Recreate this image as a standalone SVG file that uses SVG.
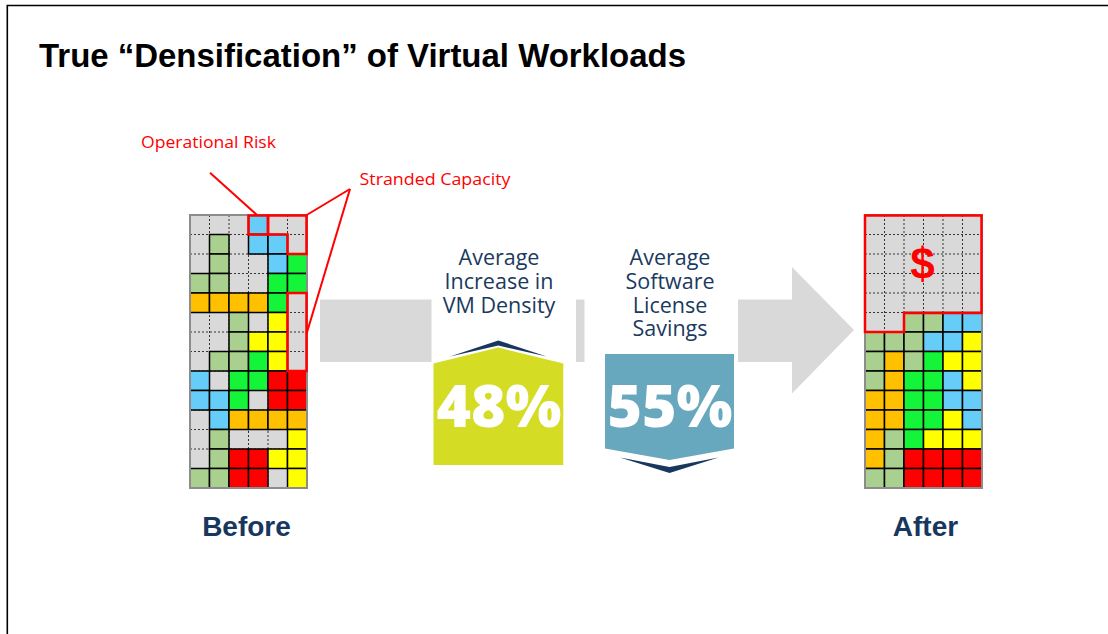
<svg xmlns="http://www.w3.org/2000/svg" width="1108" height="634" viewBox="0 0 1108 634">
<style>
.bg{fill:#fff}
.frame{fill:none;stroke:#000;stroke-width:1.6}
.title{font-family:"Liberation Sans",Arial,sans-serif;font-weight:bold;font-size:33px;fill:#000}
.note{font-family:"Open Sans","Liberation Sans",sans-serif;font-size:15.5px;fill:#ff0000}
.lbl{font-family:"Liberation Sans",Arial,sans-serif;font-weight:bold;font-size:28px;fill:#17375e;text-anchor:middle}
.cap{font-family:"Open Sans","Liberation Sans",sans-serif;font-size:21.5px;fill:#1a3a5e;text-anchor:middle}
.pct{font-family:"Open Sans","Liberation Sans",sans-serif;font-weight:800;font-size:59px;fill:#fff;text-anchor:middle}
.gbg{fill:#d9d9d9}
.dash{fill:none;stroke:#333;stroke-width:1;stroke-dasharray:2 2}
.outer{fill:none;stroke:#8c8c8c;stroke-width:2}
.c{stroke:#000;stroke-width:1.5}
.lg{fill:#a9d08e}.bg2{fill:#14f53a}.bl{fill:#66ccf8}.or{fill:#ffc000}.ye{fill:#ffff00}.rd{fill:#ff0000}
.red{fill:none;stroke:#ff0000;stroke-width:2.5}
.redl{fill:none;stroke:#ff0000;stroke-width:2}
.band{fill:#d9d9d9}
</style>
<defs>
<path id="gridlines" d="M19.5,0V273M39,0V273M58.5,0V273M78,0V273M97.5,0V273M0,19.5H117M0,39H117M0,58.5H117M0,78H117M0,97.5H117M0,117H117M0,136.5H117M0,156H117M0,175.5H117M0,195H117M0,214.5H117M0,234H117M0,253.5H117"/>
</defs>
<rect class="bg" x="0" y="0" width="1108" height="634"/>
<path class="frame" d="M7.3,634V5.5H1108"/>
<text class="title" x="39" y="67" textLength="647" lengthAdjust="spacingAndGlyphs">True “Densification” of Virtual Workloads</text>

<g id="arrow">
<rect class="band" x="320" y="299.5" width="111.5" height="62.5"/>
<rect class="band" x="576" y="299.5" width="8.5" height="62.5"/>
<polygon class="band" points="738,299.5 792,299.5 792,267 854,330 792,393.5 792,362 738,362"/>
</g>

<g id="before-grid" transform="translate(190,215)">
<rect class="gbg" x="0" y="0" width="117" height="273"/>
<use href="#gridlines" class="dash"/>
<g class="c">
<rect class="bl" x="58.5" y="0" width="19.5" height="19.5"/>
<rect class="lg" x="19.5" y="19.5" width="19.5" height="19.5"/>
<rect class="bl" x="58.5" y="19.5" width="19.5" height="19.5"/>
<rect class="bl" x="78" y="19.5" width="19.5" height="19.5"/>
<rect class="lg" x="19.5" y="39" width="19.5" height="19.5"/>
<rect class="bl" x="78" y="39" width="19.5" height="19.5"/>
<rect class="bg2" x="97.5" y="39" width="19.5" height="19.5"/>
<rect class="lg" x="0" y="58.5" width="19.5" height="19.5"/>
<rect class="lg" x="19.5" y="58.5" width="19.5" height="19.5"/>
<rect class="bg2" x="78" y="58.5" width="19.5" height="19.5"/>
<rect class="bg2" x="97.5" y="58.5" width="19.5" height="19.5"/>
<rect class="or" x="0" y="78" width="19.5" height="19.5"/>
<rect class="or" x="19.5" y="78" width="19.5" height="19.5"/>
<rect class="or" x="39" y="78" width="19.5" height="19.5"/>
<rect class="or" x="58.5" y="78" width="19.5" height="19.5"/>
<rect class="bg2" x="78" y="78" width="19.5" height="19.5"/>
<rect class="lg" x="39" y="97.5" width="19.5" height="19.5"/>
<rect class="ye" x="78" y="97.5" width="19.5" height="19.5"/>
<rect class="lg" x="39" y="117" width="19.5" height="19.5"/>
<rect class="ye" x="58.5" y="117" width="19.5" height="19.5"/>
<rect class="ye" x="78" y="117" width="19.5" height="19.5"/>
<rect class="lg" x="19.5" y="136.5" width="19.5" height="19.5"/>
<rect class="lg" x="39" y="136.5" width="19.5" height="19.5"/>
<rect class="bg2" x="58.5" y="136.5" width="19.5" height="19.5"/>
<rect class="ye" x="78" y="136.5" width="19.5" height="19.5"/>
<rect class="bl" x="0" y="156" width="19.5" height="19.5"/>
<rect class="bg2" x="39" y="156" width="19.5" height="19.5"/>
<rect class="bg2" x="58.5" y="156" width="19.5" height="19.5"/>
<rect class="rd" x="78" y="156" width="19.5" height="19.5"/>
<rect class="rd" x="97.5" y="156" width="19.5" height="19.5"/>
<rect class="bl" x="0" y="175.5" width="19.5" height="19.5"/>
<rect class="bl" x="19.5" y="175.5" width="19.5" height="19.5"/>
<rect class="bg2" x="39" y="175.5" width="19.5" height="19.5"/>
<rect class="rd" x="78" y="175.5" width="19.5" height="19.5"/>
<rect class="rd" x="97.5" y="175.5" width="19.5" height="19.5"/>
<rect class="bl" x="19.5" y="195" width="19.5" height="19.5"/>
<rect class="or" x="39" y="195" width="19.5" height="19.5"/>
<rect class="or" x="58.5" y="195" width="19.5" height="19.5"/>
<rect class="or" x="78" y="195" width="19.5" height="19.5"/>
<rect class="or" x="97.5" y="195" width="19.5" height="19.5"/>
<rect class="lg" x="19.5" y="214.5" width="19.5" height="19.5"/>
<rect class="ye" x="97.5" y="214.5" width="19.5" height="19.5"/>
<rect class="lg" x="19.5" y="234" width="19.5" height="19.5"/>
<rect class="rd" x="39" y="234" width="19.5" height="19.5"/>
<rect class="rd" x="58.5" y="234" width="19.5" height="19.5"/>
<rect class="ye" x="78" y="234" width="19.5" height="19.5"/>
<rect class="ye" x="97.5" y="234" width="19.5" height="19.5"/>
<rect class="lg" x="0" y="253.5" width="19.5" height="19.5"/>
<rect class="lg" x="19.5" y="253.5" width="19.5" height="19.5"/>
<rect class="rd" x="39" y="253.5" width="19.5" height="19.5"/>
<rect class="rd" x="58.5" y="253.5" width="19.5" height="19.5"/>
<rect class="ye" x="97.5" y="253.5" width="19.5" height="19.5"/>
</g>
<rect class="outer" x="0" y="0" width="117" height="273"/>
<rect class="red" x="58.5" y="0.5" width="19.5" height="19"/>
<polygon class="red" points="78,0.5 116.5,0.5 116.5,39 97.5,39 97.5,19.5 78,19.5"/>
<rect class="red" x="97.5" y="78" width="19" height="78"/>
</g>

<g id="after-grid" transform="translate(865,215)">
<rect class="gbg" x="0" y="0" width="117" height="273"/>
<use href="#gridlines" class="dash"/>
<g class="c">
<rect class="lg" x="39" y="97.5" width="19.5" height="19.5"/>
<rect class="lg" x="58.5" y="97.5" width="19.5" height="19.5"/>
<rect class="bl" x="78" y="97.5" width="19.5" height="19.5"/>
<rect class="bl" x="97.5" y="97.5" width="19.5" height="19.5"/>
<rect class="lg" x="0" y="117" width="19.5" height="19.5"/>
<rect class="lg" x="19.5" y="117" width="19.5" height="19.5"/>
<rect class="lg" x="39" y="117" width="19.5" height="19.5"/>
<rect class="bl" x="58.5" y="117" width="19.5" height="19.5"/>
<rect class="bl" x="78" y="117" width="19.5" height="19.5"/>
<rect class="ye" x="97.5" y="117" width="19.5" height="19.5"/>
<rect class="lg" x="0" y="136.5" width="19.5" height="19.5"/>
<rect class="or" x="19.5" y="136.5" width="19.5" height="19.5"/>
<rect class="lg" x="39" y="136.5" width="19.5" height="19.5"/>
<rect class="bg2" x="58.5" y="136.5" width="19.5" height="19.5"/>
<rect class="ye" x="78" y="136.5" width="19.5" height="19.5"/>
<rect class="ye" x="97.5" y="136.5" width="19.5" height="19.5"/>
<rect class="lg" x="0" y="156" width="19.5" height="19.5"/>
<rect class="or" x="19.5" y="156" width="19.5" height="19.5"/>
<rect class="bg2" x="39" y="156" width="19.5" height="19.5"/>
<rect class="bg2" x="58.5" y="156" width="19.5" height="19.5"/>
<rect class="bl" x="78" y="156" width="19.5" height="19.5"/>
<rect class="ye" x="97.5" y="156" width="19.5" height="19.5"/>
<rect class="or" x="0" y="175.5" width="19.5" height="19.5"/>
<rect class="or" x="19.5" y="175.5" width="19.5" height="19.5"/>
<rect class="bg2" x="39" y="175.5" width="19.5" height="19.5"/>
<rect class="bg2" x="58.5" y="175.5" width="19.5" height="19.5"/>
<rect class="bl" x="78" y="175.5" width="19.5" height="19.5"/>
<rect class="bl" x="97.5" y="175.5" width="19.5" height="19.5"/>
<rect class="or" x="0" y="195" width="19.5" height="19.5"/>
<rect class="or" x="19.5" y="195" width="19.5" height="19.5"/>
<rect class="bg2" x="39" y="195" width="19.5" height="19.5"/>
<rect class="bg2" x="58.5" y="195" width="19.5" height="19.5"/>
<rect class="ye" x="78" y="195" width="19.5" height="19.5"/>
<rect class="bl" x="97.5" y="195" width="19.5" height="19.5"/>
<rect class="or" x="0" y="214.5" width="19.5" height="19.5"/>
<rect class="lg" x="19.5" y="214.5" width="19.5" height="19.5"/>
<rect class="bg2" x="39" y="214.5" width="19.5" height="19.5"/>
<rect class="ye" x="58.5" y="214.5" width="19.5" height="19.5"/>
<rect class="ye" x="78" y="214.5" width="19.5" height="19.5"/>
<rect class="ye" x="97.5" y="214.5" width="19.5" height="19.5"/>
<rect class="or" x="0" y="234" width="19.5" height="19.5"/>
<rect class="lg" x="19.5" y="234" width="19.5" height="19.5"/>
<rect class="rd" x="39" y="234" width="19.5" height="19.5"/>
<rect class="rd" x="58.5" y="234" width="19.5" height="19.5"/>
<rect class="rd" x="78" y="234" width="19.5" height="19.5"/>
<rect class="rd" x="97.5" y="234" width="19.5" height="19.5"/>
<rect class="lg" x="0" y="253.5" width="19.5" height="19.5"/>
<rect class="lg" x="19.5" y="253.5" width="19.5" height="19.5"/>
<rect class="rd" x="39" y="253.5" width="19.5" height="19.5"/>
<rect class="rd" x="58.5" y="253.5" width="19.5" height="19.5"/>
<rect class="rd" x="78" y="253.5" width="19.5" height="19.5"/>
<rect class="rd" x="97.5" y="253.5" width="19.5" height="19.5"/>
</g>
<rect class="outer" x="0" y="0" width="117" height="273"/>
<polygon class="red" points="0,0.5 116.5,0.5 116.5,98 39,98 39,117 0,117"/>
<text x="57.5" y="64" font-family="Liberation Sans,Arial,sans-serif" font-weight="bold" font-size="44" fill="#ff0000" text-anchor="middle">$</text>
</g>

<g id="badge-48">
<text class="cap" x="499" y="265">Average</text>
<text class="cap" x="499" y="289">Increase in</text>
<text class="cap" x="499" y="313">VM Density</text>
<polygon fill="#17375e" points="450,356.5 498.3,340.5 546.7,356.5 498.3,345.5"/>
<polygon fill="#d4dc24" points="433.5,363.5 498.3,347.5 563.3,363.5 563.3,465 433.5,465"/>
<text class="pct" x="499" y="427">48%</text>
</g>

<g id="badge-55">
<text class="cap" x="670" y="265">Average</text>
<text class="cap" x="670" y="289">Software</text>
<text class="cap" x="670" y="313">License</text>
<text class="cap" x="670" y="336">Savings</text>
<polygon fill="#68a8be" points="605,354 734,354 734,448.5 669.5,460 605,448.5"/>
<polygon fill="#17375e" points="620,457.5 669.5,467 718.5,457.5 669.5,473"/>
<text class="pct" x="670" y="427">55%</text>
</g>

<g id="label-before"><text class="lbl" x="246.5" y="535.5">Before</text></g>
<g id="label-after"><text class="lbl" x="925.5" y="535.5">After</text></g>

<g id="note-risk"><text class="note" x="141" y="148" textLength="135" lengthAdjust="spacingAndGlyphs">Operational Risk</text></g>
<g id="note-stranded"><text class="note" x="359.5" y="184.5" textLength="151" lengthAdjust="spacingAndGlyphs">Stranded Capacity</text></g>

<g id="connectors">
<path class="redl" d="M210,172.7L257,215"/>
<path class="redl" d="M350,189L306.7,215"/>
<path class="redl" d="M350,189L306.5,334"/>
</g>
</svg>
